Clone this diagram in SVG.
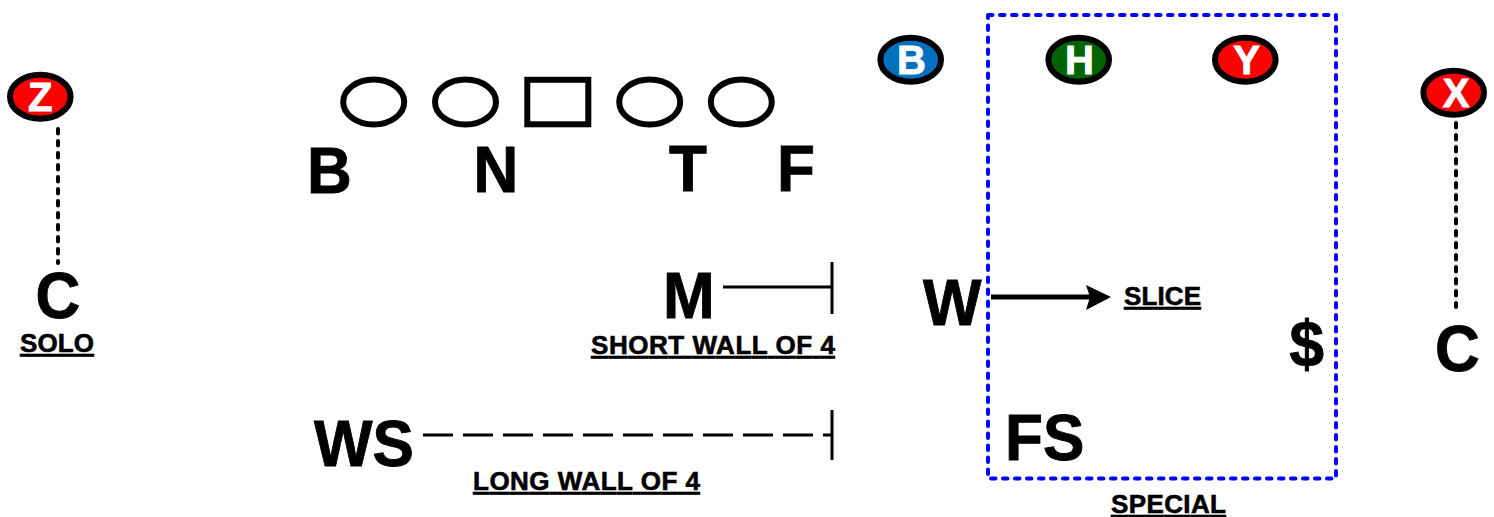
<svg xmlns="http://www.w3.org/2000/svg" width="1494" height="517" viewBox="0 0 1494 517">
<style>
text{font-family:"Liberation Sans",Arial,sans-serif;font-weight:bold;fill:#000}
.big{font-size:65px;stroke:#000;stroke-width:.9}
.lab{font-size:26px;text-decoration:underline;stroke:#000;stroke-width:.6}
.pl{font-size:40px;fill:#fff;stroke:#fff;stroke-width:.9;text-anchor:middle}
.o{stroke:#000;stroke-width:6}
.line{fill:none;stroke:#000;stroke-width:3}
.dot{fill:none;stroke:#000;stroke-width:4;stroke-dasharray:4.500 7.500;stroke-linecap:round}
</style>
<rect width="1494" height="517" fill="#fff"/>
<g id="connectors">
<path class="dot" d="M58 129V263"/>
<path class="dot" d="M1456 123V307"/>
<path class="line" d="M723 287H832M832 262V314"/>
<path class="line" d="M832 410V460"/>
<path class="line" d="M423 435H832" stroke-dasharray="30 10"/>
<path d="M991 297H1090" fill="none" stroke="#000" stroke-width="5"/>
<path d="M1086 285L1111 297L1086 310L1090 297Z" fill="#000"/>
</g>
<g id="special-zone"><rect x="988" y="15" width="348" height="463.500" fill="none" stroke="#0000ff" stroke-width="4" stroke-dasharray="4.500 7.500" stroke-linecap="round" stroke-linejoin="round"/><text class="lab" x="1111" y="513" textLength="115" lengthAdjust="spacing">SPECIAL</text></g>
<g id="z"><ellipse class="o" cx="40.300" cy="96.700" rx="30.300" ry="22" fill="#ff0000"/><text class="pl" x="40.300" y="111">Z</text></g>
<g id="b-rec"><ellipse class="o" cx="910.700" cy="59.700" rx="30.300" ry="22" fill="#0070c0"/><text class="pl" x="911.500" y="74">B</text></g>
<g id="h"><ellipse class="o" cx="1078.700" cy="59.700" rx="30.300" ry="22" fill="#006400"/><text class="pl" x="1079.500" y="74">H</text></g>
<g id="y"><ellipse class="o" cx="1245.300" cy="59.700" rx="30.300" ry="22" fill="#ff0000"/><text class="pl" x="1246.500" y="74">Y</text></g>
<g id="x"><ellipse class="o" cx="1453.700" cy="92.700" rx="30.300" ry="22" fill="#ff0000"/><text class="pl" x="1456" y="107">X</text></g>
<g id="ol" fill="#fff">
<ellipse class="o" cx="373.700" cy="102" rx="30.500" ry="22.500"/>
<ellipse class="o" cx="465.500" cy="102" rx="30.500" ry="22.500"/>
<rect class="o" x="527.300" y="79.800" width="61" height="44.500"/>
<ellipse class="o" cx="649.700" cy="102" rx="30.500" ry="22.500"/>
<ellipse class="o" cx="741.300" cy="102" rx="30.500" ry="22.500"/>
</g>
<g id="dl-b"><text class="big" x="307" y="193" textLength="44.800" lengthAdjust="spacingAndGlyphs">B</text></g>
<g id="dl-n"><text class="big" x="473.500" y="192" textLength="44.800" lengthAdjust="spacingAndGlyphs">N</text></g>
<g id="dl-t"><text class="big" x="669" y="191" textLength="37.900" lengthAdjust="spacingAndGlyphs">T</text></g>
<g id="dl-f"><text class="big" x="777" y="191" textLength="37.900" lengthAdjust="spacingAndGlyphs">F</text></g>
<g id="c-left"><text class="big" x="35.600" y="318" textLength="44.800" lengthAdjust="spacingAndGlyphs">C</text><text class="lab" x="20" y="352" textLength="74" lengthAdjust="spacing">SOLO</text></g>
<g id="m"><text class="big" x="663" y="318" textLength="51.600" lengthAdjust="spacingAndGlyphs">M</text><text class="lab" x="591" y="354" textLength="244" lengthAdjust="spacing">SHORT WALL OF 4</text></g>
<g id="w"><text class="big" x="923" y="325" textLength="58.500" lengthAdjust="spacingAndGlyphs">W</text></g>
<g id="slice"><text class="lab" x="1124" y="305" textLength="77" lengthAdjust="spacing">SLICE</text></g>
<g id="dollar"><text class="big" x="1289.500" y="366" textLength="34.500" lengthAdjust="spacingAndGlyphs">$</text></g>
<g id="c-right"><text class="big" x="1435.100" y="371" textLength="44.800" lengthAdjust="spacingAndGlyphs">C</text></g>
<g id="ws"><text class="big" x="314" y="466" textLength="99.900" lengthAdjust="spacingAndGlyphs">WS</text><text class="lab" x="473" y="490" textLength="227" lengthAdjust="spacing">LONG WALL OF 4</text></g>
<g id="fs"><text class="big" x="1005" y="460" textLength="79.300" lengthAdjust="spacingAndGlyphs">FS</text></g>
</svg>
